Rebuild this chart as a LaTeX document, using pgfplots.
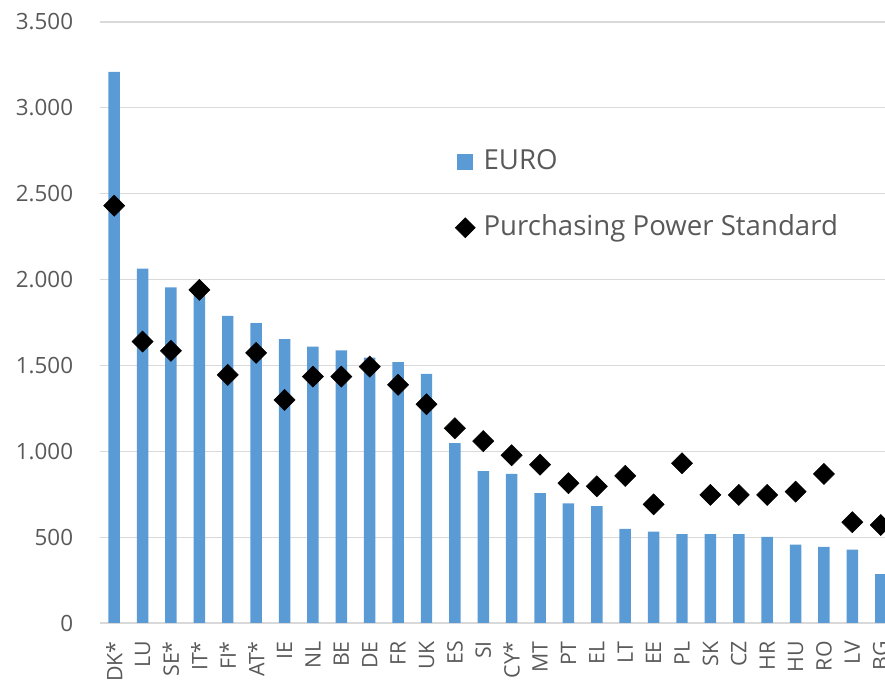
\documentclass[border=0pt]{standalone}
\usepackage{pgfplots}
\pgfplotsset{compat=1.18}
\usepackage{fontspec}
\setmainfont{Open Sans}
\definecolor{barblue}{HTML}{5B9BD5}
\definecolor{txtgray}{HTML}{595959}
\definecolor{gridgray}{HTML}{D9D9D9}
\begin{document}
\begin{tikzpicture}
\useasboundingbox (-75pt,-45.75pt) rectangle (588.75pt,467.25pt);
\begin{axis}[
  scale only axis,
  width=588.75pt, height=450.75pt,
  xmin=-0.5, xmax=27.15,
  ymin=0, ymax=3500,
  ytick={0,500,...,3500},
  xtick={0,...,27},
  xticklabels={DK*,LU,SE*,IT*,FI*,AT*,IE,NL,BE,DE,FR,UK,ES,SI,CY*,MT,PT,EL,LT,EE,PL,SK,CZ,HR,HU,RO,LV,BG},
  x tick label style={rotate=90, anchor=east, inner sep=0pt, font=\fontsize{16}{18}\selectfont, text=txtgray},
  xticklabel shift=13.5pt,
  y tick label style={anchor=east, inner sep=0pt, font=\fontsize{16.8}{18}\selectfont, text=txtgray},
  yticklabel shift=20pt,
  /pgf/number format/1000 sep={.},
  /pgf/number format/assume math mode=true,
  axis line style={draw=none},
  major tick length=0pt,
  ymajorgrids,
  grid style={color=gridgray, line width=0.9pt},
  legend style={draw=none, fill=none, at={(0.452,0.712)}, anchor=west, inner sep=0pt,
    row sep=30pt, column sep=6pt, font=\fontsize{20.7}{24}\selectfont, text=txtgray,
    nodes={inner sep=0pt, text height=15pt, text depth=4pt}},
  legend cell align=left,
]
\addplot[ybar, bar width=8.6pt, fill=barblue, draw=none,
  legend image code/.code={\fill[barblue] (0pt,-6pt) rectangle (12pt,6pt);}]
coordinates {
(0,3209) (1,2064) (2,1954) (3,1920) (4,1789) (5,1746) (6,1653) (7,1610)
(8,1587) (9,1545) (10,1519) (11,1451) (12,1047) (13,884) (14,868) (15,756)
(16,697) (17,680) (18,548) (19,532) (20,517) (21,517) (22,517) (23,501)
(24,456) (25,443) (26,427) (27,285)
};
\addlegendentry{EURO}
\addplot[only marks, mark=square*, mark size=5.6pt, mark options={rotate=45, fill=black, draw=black},
  legend image code/.code={\fill[black] (6pt,7.5pt)--(13.5pt,0pt)--(6pt,-7.5pt)--(-1.5pt,0pt)--cycle;}]
coordinates {
(0,2430) (1,1639) (2,1585) (3,1940) (4,1445) (5,1573) (6,1299) (7,1435)
(8,1435) (9,1493) (10,1387) (11,1274) (12,1134) (13,1059) (14,977) (15,922)
(16,814) (17,796) (18,857) (19,691) (20,930) (21,746) (22,746) (23,746)
(24,765) (25,868) (26,587) (27,571)
};
\addlegendentry{Purchasing Power Standard}
\end{axis}
\end{tikzpicture}
\end{document}
